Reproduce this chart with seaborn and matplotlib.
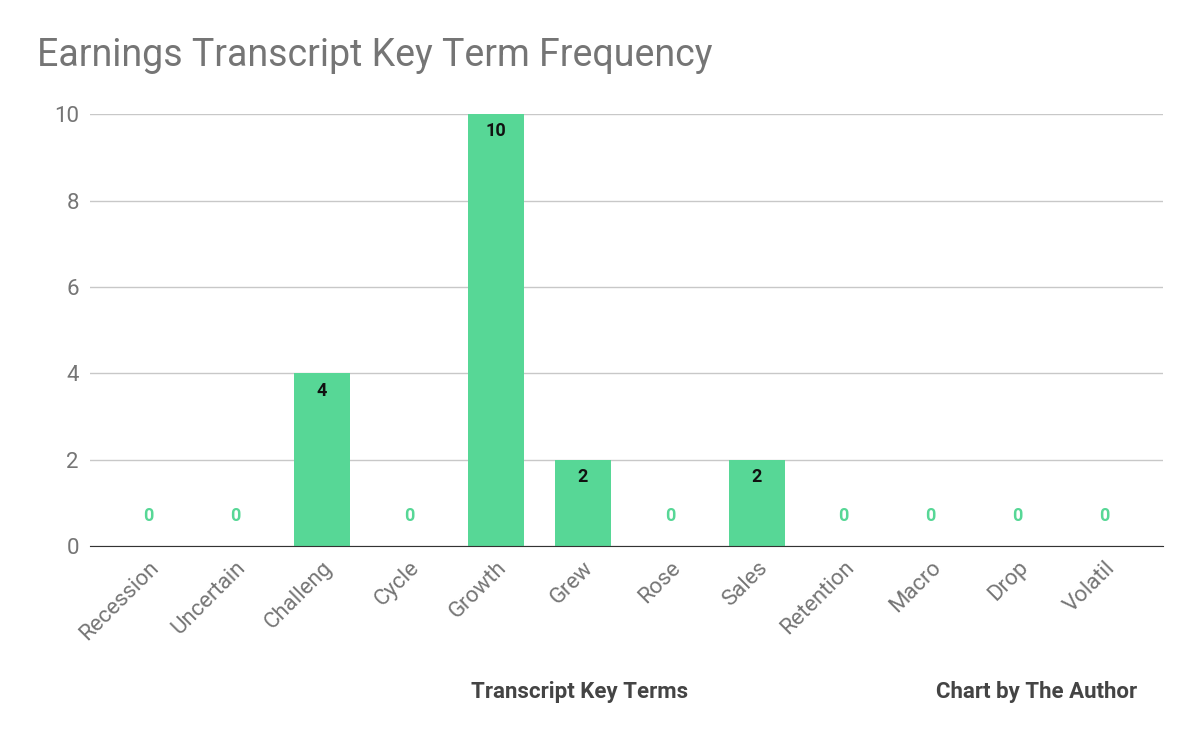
import matplotlib
matplotlib.use("Agg")
import matplotlib.pyplot as plt
import seaborn as sns
import pandas as pd

terms = ["Recession","Uncertain","Challeng","Cycle","Growth","Grew","Rose","Sales","Retention","Macro","Drop","Volatil"]
counts = [0,0,4,0,10,2,0,2,0,0,0,0]
yticks = [0,2,4,6,8,10]

plt.rcParams["font.family"] = "Roboto"
df = pd.DataFrame({"term": terms, "count": counts})
fig = plt.figure(figsize=(12, 7.41), dpi=100)
ax = fig.add_axes([0.075, 0.263, 0.894, 0.583])
green = "#57d796"
sns.barplot(data=df, x="term", y="count", color=green, width=0.64, saturation=1, ax=ax, zorder=3)
ax.set_ylim(0, 10)
ax.set_xlim(-0.67, 11.67)
ax.set_yticks(yticks)
ax.grid(axis="y", color="#c8c8c8", lw=1, zorder=0)
for s in ["top","right","left"]:
    ax.spines[s].set_visible(False)
ax.spines["bottom"].set_color("#333333")
ax.spines["bottom"].set_zorder(4)
ax.tick_params(length=0, labelsize=16, colors="#757575", pad=8)
ax.set_xticks(range(len(terms)))
ax.set_xticklabels(terms, rotation=45, ha="right", rotation_mode="anchor")
for i, v in enumerate(counts):
    if v > 0:
        ax.text(i, v - 0.4, str(v), ha="center", va="center", fontsize=13, fontweight="bold", color="#111111", zorder=5)
    else:
        ax.text(i, 0.7, str(v), ha="center", va="center", fontsize=13, fontweight="bold", color=green, zorder=5)
ax.set_xlabel("")
ax.set_ylabel("")
fig.text(0.031, 0.925, "Earnings Transcript Key Term Frequency", fontsize=27, color="#757575", va="center")
fig.text(0.483, 0.066, "Transcript Key Terms", fontsize=16, fontweight="bold", color="#444444", ha="center", va="center")
fig.text(0.864, 0.066, "Chart by The Author", fontsize=16, fontweight="bold", color="#444444", ha="center", va="center")
fig.savefig("out.png", dpi=100)
